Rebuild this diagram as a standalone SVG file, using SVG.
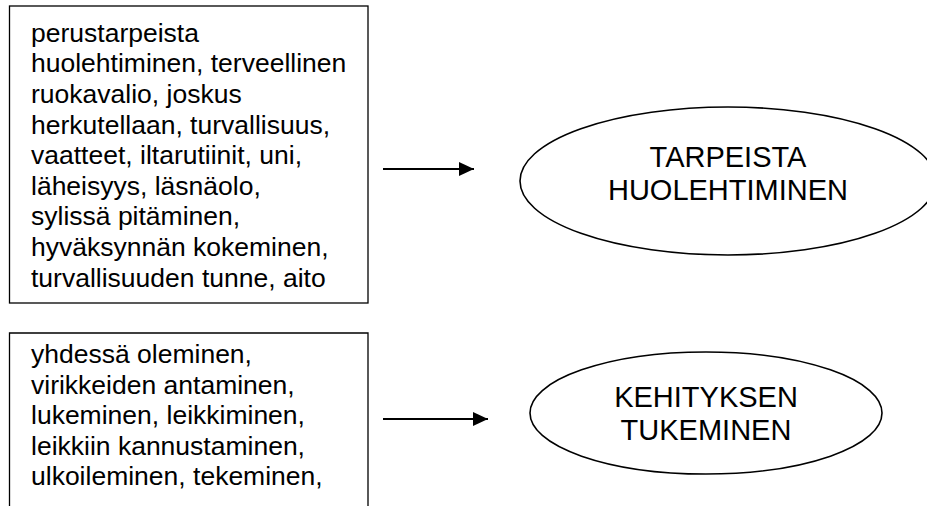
<svg xmlns="http://www.w3.org/2000/svg" width="927" height="506" viewBox="0 0 927 506">
  <style>
    .box { fill: #ffffff; stroke: #000000; stroke-width: 1.3; }
    .ell { fill: #ffffff; stroke: #000000; stroke-width: 1.6; }
    .txt { font-family: "Liberation Sans", Arial, sans-serif; font-size: 26.5px; fill: #000000; }
    .etxt { font-family: "Liberation Sans", Arial, sans-serif; font-size: 29px; fill: #000000; text-anchor: middle; }
    .conn { stroke: #000000; stroke-width: 2; fill: none; }
  </style>
  <defs>
    <marker id="arrow" markerUnits="userSpaceOnUse" markerWidth="16" markerHeight="16" refX="15" refY="7" orient="auto">
      <path d="M0,0 L15,7 L0,14 Z" fill="#000000"/>
    </marker>
  </defs>
  <rect width="927" height="506" fill="#ffffff"/>

  <g id="box1">
    <rect class="box" x="9.5" y="6" width="358.5" height="297"/>
    <text class="txt">
      <tspan x="31" y="41.7">perustarpeista</tspan>
      <tspan x="31" y="72.3">huolehtiminen, terveellinen</tspan>
      <tspan x="31" y="102.9">ruokavalio, joskus</tspan>
      <tspan x="31" y="133.5">herkutellaan, turvallisuus,</tspan>
      <tspan x="31" y="164.1">vaatteet, iltarutiinit, uni,</tspan>
      <tspan x="31" y="194.7">läheisyys, läsnäolo,</tspan>
      <tspan x="31" y="225.3">sylissä pitäminen,</tspan>
      <tspan x="31" y="255.9">hyväksynnän kokeminen,</tspan>
      <tspan x="31" y="286.5">turvallisuuden tunne, aito</tspan>
    </text>
  </g>

  <g id="box2">
    <path class="box" d="M9.5,510 L9.5,333 L368,333 L368,510"/>
    <text class="txt">
      <tspan x="31" y="363">yhdessä oleminen,</tspan>
      <tspan x="31" y="393.5">virikkeiden antaminen,</tspan>
      <tspan x="31" y="424">lukeminen, leikkiminen,</tspan>
      <tspan x="31" y="454.5">leikkiin kannustaminen,</tspan>
      <tspan x="31" y="485">ulkoileminen, tekeminen,</tspan>
    </text>
  </g>

  <g id="ellipse1">
    <ellipse class="ell" cx="728" cy="181" rx="208" ry="74"/>
    <text class="etxt" x="728" y="167">TARPEISTA</text>
    <text class="etxt" x="728" y="200">HUOLEHTIMINEN</text>
  </g>

  <g id="ellipse2">
    <ellipse class="ell" cx="706" cy="413" rx="176" ry="61"/>
    <text class="etxt" x="706" y="406.7">KEHITYKSEN</text>
    <text class="etxt" x="706" y="440">TUKEMINEN</text>
  </g>

  <g id="connectors">
    <line class="conn" x1="383" y1="169" x2="474" y2="169" marker-end="url(#arrow)"/>
    <line class="conn" x1="383" y1="419" x2="488" y2="419" marker-end="url(#arrow)"/>
  </g>
</svg>
